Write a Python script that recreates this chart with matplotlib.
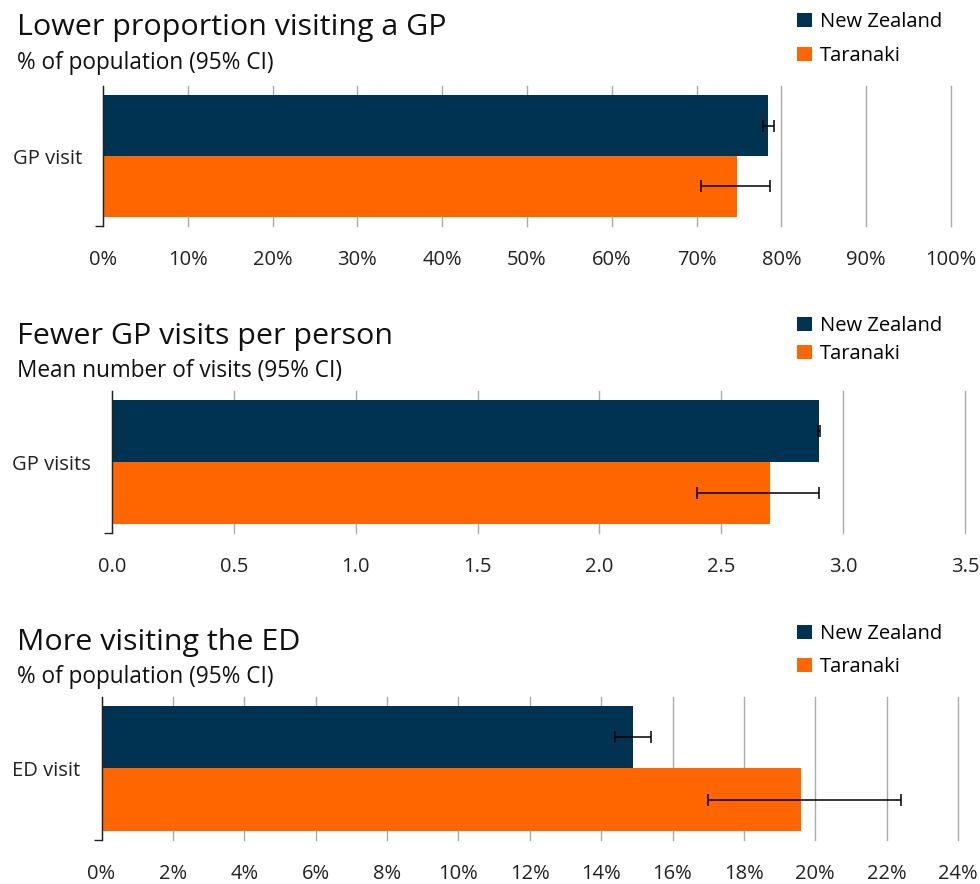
import matplotlib

matplotlib.use("Agg")
import matplotlib.pyplot as plt
from matplotlib.ticker import FuncFormatter, MultipleLocator

plt.rcParams["font.family"] = ["Open Sans", "DejaVu Sans"]

NAVY = "#003352"
ORANGE = "#FF6600"
GRID = "#ababab"

series = ["New Zealand", "Taranaki"]

# panel 1: GP visit, % of population
gp_cat = "GP visit"
gp_val = [78.4, 74.8]
gp_lo = [77.8, 70.5]
gp_hi = [79.1, 78.7]

# panel 2: mean GP visits per person
gpn_cat = "GP visits"
gpn_val = [2.90, 2.70]
gpn_lo = [2.895, 2.40]
gpn_hi = [2.905, 2.90]

# panel 3: ED visit, % of population
ed_cat = "ED visit"
ed_val = [14.9, 19.6]
ed_lo = [14.4, 17.0]
ed_hi = [15.4, 22.4]

panels = [
    dict(title="Lower proportion visiting a GP", sub="% of population (95% CI)",
         cat=gp_cat, val=gp_val, lo=gp_lo, hi=gp_hi,
         rect=[103, 86, 951, 226], xlim=(0, 100), step=10, fmt="{:.0f}%",
         tb=35, sb=69, leg=12, spacing=0.7),
    dict(title="Fewer GP visits per person", sub="Mean number of visits (95% CI)",
         cat=gpn_cat, val=gpn_val, lo=gpn_lo, hi=gpn_hi,
         rect=[112, 391, 965, 533], xlim=(0, 3.5), step=0.5, fmt="{:.1f}",
         tb=344, sb=377, leg=316, spacing=0.4),
    dict(title="More visiting the ED", sub="% of population (95% CI)",
         cat=ed_cat, val=ed_val, lo=ed_lo, hi=ed_hi,
         rect=[101.5, 697, 958, 840], xlim=(0, 24), step=2, fmt="{:.0f}%",
         tb=650, sb=683, leg=624, spacing=0.65),
]

W, H = 980, 884
fig = plt.figure(figsize=(W / 100, H / 100), dpi=100)

for p in panels:
    x0, y0, x1, y1 = p["rect"]
    ax = fig.add_axes([x0 / W, 1 - y1 / H, (x1 - x0) / W, (y1 - y0) / H])

    bh = 0.435
    ys = [bh / 2, -bh / 2]
    colors = [NAVY, ORANGE]
    bars = []
    for i in range(2):
        b = ax.barh(ys[i], p["val"][i], height=bh, color=colors[i],
                    label=series[i], zorder=2)
        bars.append(b)
        ax.errorbar(p["val"][i], ys[i],
                    xerr=[[p["val"][i] - p["lo"][i]], [p["hi"][i] - p["val"][i]]],
                    fmt="none", ecolor="black", elinewidth=1.1, capsize=4.3,
                    capthick=1.1, zorder=3)

    ax.set_xlim(*p["xlim"])
    ax.set_ylim(-0.5, 0.5)
    ax.xaxis.set_major_locator(MultipleLocator(p["step"]))
    ax.xaxis.set_major_formatter(FuncFormatter(lambda v, _, f=p["fmt"]: f.format(v)))
    ax.grid(axis="x", color=GRID, lw=1, zorder=0)
    for gl in ax.get_xgridlines():
        gl.set_clip_on(False)
    ax.tick_params(axis="x", length=0, pad=17, labelsize=14.5, colors="#222222")

    ax.set_yticks([0])
    ax.set_yticklabels([p["cat"]])
    ax.set_yticks([-0.5], minor=True)
    ax.tick_params(axis="y", which="major", length=0, pad=15, labelsize=14.5,
                   colors="#222222")
    ax.tick_params(axis="y", which="minor", length=6, width=1, color="#222222")

    for s in ["top", "right", "bottom"]:
        ax.spines[s].set_visible(False)
    ax.spines["left"].set_color("#222222")
    ax.spines["left"].set_linewidth(1)
    ax.spines["left"].set_zorder(4)

    fig.text(17 / W, 1 - p["tb"] / H, p["title"], fontsize=21.9, va="baseline",
             color="#111111")
    fig.text(17 / W, 1 - p["sb"] / H, p["sub"], fontsize=16.3, va="baseline",
             color="#111111")

    ax.legend(handles=bars, loc="upper left",
              bbox_to_anchor=(797 / W, 1 - p["leg"] / H),
              bbox_transform=fig.transFigure, frameon=False, fontsize=14.5,
              handlelength=0.75, handleheight=0.75, handletextpad=0.4,
              labelspacing=p["spacing"], borderpad=0, borderaxespad=0)

fig.savefig("out.png", dpi=100)
